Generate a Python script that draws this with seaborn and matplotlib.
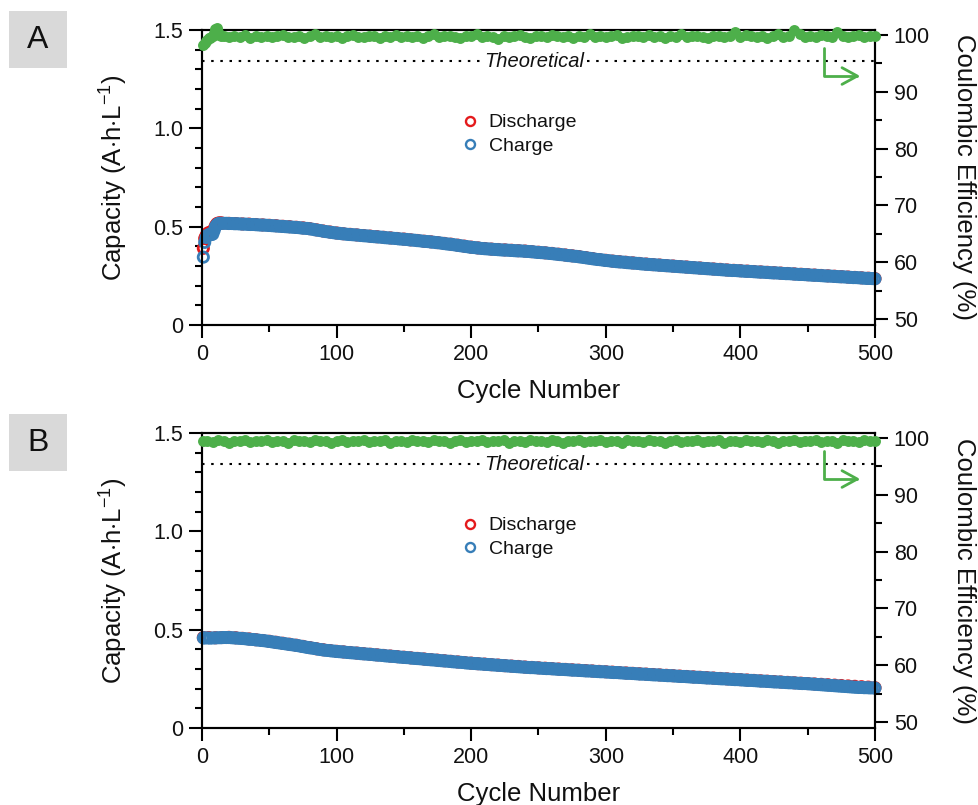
import matplotlib
matplotlib.use("Agg")
import matplotlib.pyplot as plt
from matplotlib.lines import Line2D
from matplotlib.patches import Rectangle
from matplotlib.ticker import MultipleLocator
import seaborn as sns

sns.set_style("ticks")
plt.rcParams["font.family"] = ["Liberation Sans", "DejaVu Sans"]
plt.rcParams["mathtext.fontset"] = "custom"
plt.rcParams["mathtext.rm"] = "Liberation Sans"
plt.rcParams["mathtext.it"] = "Liberation Sans:italic"
plt.rcParams["text.color"] = "#111111"
plt.rcParams["axes.labelcolor"] = "#111111"
plt.rcParams["xtick.color"] = "black"
plt.rcParams["ytick.color"] = "black"
plt.rcParams["xtick.labelcolor"] = "#111111"
plt.rcParams["ytick.labelcolor"] = "#111111"

# ======================= panel A =======================
# charge capacity: cycles 1..14, then every 2nd cycle
charge_cycles_A = list(range(1, 15)) + list(range(16, 501, 2))
charge_A = [0.345, 0.42, 0.445, 0.455, 0.46, 0.46, 0.46, 0.462, 0.48, 0.50, 0.51, 0.515, 0.517, 0.517,
            0.517, 0.517, 0.516,
            0.516, 0.515, 0.515, 0.514, 0.513, 0.513, 0.512, 0.511, 0.511, 0.510,
            0.509, 0.508, 0.508, 0.507, 0.506, 0.505, 0.504, 0.503, 0.502, 0.501,
            0.500, 0.499, 0.498, 0.497, 0.496, 0.495, 0.493, 0.492, 0.491, 0.489,
            0.487, 0.484, 0.482, 0.480, 0.477, 0.475, 0.473, 0.471, 0.469, 0.467,
            0.466, 0.464, 0.463, 0.461, 0.460, 0.459, 0.458, 0.457, 0.455, 0.454,
            0.453, 0.452, 0.450, 0.449, 0.448, 0.447, 0.446, 0.444, 0.443, 0.442,
            0.441, 0.440, 0.438, 0.437, 0.436, 0.435, 0.433, 0.432, 0.431, 0.429,
            0.428, 0.426, 0.425, 0.424, 0.422, 0.421, 0.419, 0.418, 0.416, 0.414,
            0.412, 0.411, 0.409, 0.407, 0.405, 0.403, 0.401, 0.399, 0.397, 0.395,
            0.394, 0.392, 0.391, 0.389, 0.388, 0.387, 0.386, 0.385, 0.384, 0.383,
            0.382, 0.381, 0.381, 0.380, 0.379, 0.378, 0.377, 0.377, 0.376, 0.375,
            0.374, 0.373, 0.372, 0.370, 0.369, 0.368, 0.367, 0.366, 0.364, 0.363,
            0.361, 0.360, 0.358, 0.357, 0.355, 0.353, 0.352, 0.350, 0.349, 0.347,
            0.345, 0.343, 0.341, 0.339, 0.337, 0.335, 0.333, 0.332, 0.330, 0.328,
            0.327, 0.325, 0.324, 0.322, 0.321, 0.320, 0.319, 0.317, 0.316, 0.315,
            0.314, 0.313, 0.311, 0.310, 0.309, 0.308, 0.307, 0.306, 0.305, 0.304,
            0.303, 0.302, 0.301, 0.300, 0.299, 0.298, 0.297, 0.296, 0.295, 0.294,
            0.293, 0.292, 0.291, 0.290, 0.289, 0.288, 0.287, 0.286, 0.285, 0.284,
            0.283, 0.282, 0.281, 0.280, 0.279, 0.278, 0.277, 0.277, 0.276, 0.275,
            0.274, 0.273, 0.273, 0.272, 0.271, 0.270, 0.269, 0.269, 0.268, 0.267,
            0.266, 0.265, 0.265, 0.264, 0.263, 0.262, 0.261, 0.261, 0.260, 0.259,
            0.258, 0.257, 0.257, 0.256, 0.255, 0.254, 0.253, 0.253, 0.252, 0.251,
            0.250, 0.249, 0.249, 0.248, 0.247, 0.246, 0.245, 0.245, 0.244, 0.243,
            0.242, 0.241, 0.241, 0.240, 0.239, 0.238, 0.237, 0.237, 0.236, 0.235]

# discharge capacity: cycles 1..14, then every 5th cycle
discharge_cycles_A = list(range(1, 15)) + list(range(15, 501, 5))
discharge_A = [0.39, 0.44, 0.455, 0.465, 0.47, 0.47, 0.47, 0.475, 0.49, 0.505, 0.515, 0.518, 0.519, 0.519,
               0.518, 0.517, 0.516, 0.514, 0.513, 0.511, 0.509, 0.507, 0.505, 0.502, 0.500, 0.497, 0.494, 0.490, 0.484, 0.478, 0.473, 0.468,
               0.464, 0.461, 0.458, 0.455, 0.452, 0.449, 0.446, 0.443, 0.440, 0.437, 0.433, 0.430, 0.426, 0.423, 0.419, 0.415, 0.411, 0.406, 0.401, 0.396,
               0.392, 0.389, 0.386, 0.384, 0.382, 0.380, 0.378, 0.376, 0.373, 0.370, 0.367, 0.364, 0.360, 0.356, 0.352, 0.348, 0.343, 0.338, 0.333, 0.329,
               0.325, 0.322, 0.319, 0.316, 0.313, 0.310, 0.307, 0.305, 0.302, 0.300, 0.297, 0.295, 0.292, 0.290, 0.287, 0.285, 0.283, 0.280, 0.278, 0.276,
               0.274, 0.272, 0.270, 0.268, 0.266, 0.264, 0.262, 0.260, 0.258, 0.256, 0.254, 0.252, 0.250, 0.248, 0.246, 0.244, 0.242, 0.240, 0.238, 0.236]

# coulombic efficiency (%): cycles 1..14, then every 4th cycle
ce_cycles_A = list(range(1, 15)) + list(range(16, 497, 4)) + [500]
ce_A = [98.3, 98.6, 98.9, 99.2, 99.4, 99.5, 99.7, 99.9, 100.4, 101.1, 101.3, 100.6, 100.0, 99.8,
        99.8, 99.6, 99.9, 99.7, 100.0, 99.5, 99.8, 99.7, 99.9, 99.6,
        99.8, 100.0, 99.6, 99.7, 99.9, 99.5, 99.8, 100.1, 99.6, 99.8,
        99.7, 99.9, 99.5, 99.8, 100.0, 99.7, 99.6, 99.9, 99.8, 99.4,
        99.9, 99.7, 100.0, 99.6, 99.8, 99.7, 99.9, 99.5, 99.8, 100.1,
        99.6, 99.8, 99.9, 99.7, 99.5, 99.9, 99.8, 100.2, 99.6, 99.8,
        99.7, 99.3, 99.9, 99.6, 99.8, 100.0, 99.7, 99.5, 99.9, 99.8,
        99.6, 100.0, 99.8, 99.7, 99.9, 99.5, 99.8, 99.6, 100.1, 99.7,
        99.9, 99.6, 99.8, 100.0, 99.5, 99.7, 99.9, 99.8, 99.6, 100.0,
        99.7, 99.9, 99.5, 99.8, 99.7, 100.1, 99.6, 99.8, 99.9, 99.7,
        99.5, 99.9, 99.8, 99.7, 99.9, 100.6, 99.6, 100.0, 99.8, 99.7,
        99.9, 99.5, 99.8, 100.1, 99.7, 99.8, 100.8, 100.2, 99.6, 99.9,
        99.7, 100.0, 99.8, 99.6, 100.5, 99.9, 99.7, 99.8, 100.0, 99.6,
        99.8, 99.9]

# ======================= panel B =======================
charge_cycles_B = [1] + list(range(2, 501, 2))
charge_B = [0.458,
            0.458, 0.458, 0.457, 0.458, 0.458, 0.459, 0.459, 0.460, 0.460, 0.460,
            0.459, 0.458, 0.457, 0.456, 0.455, 0.454, 0.452, 0.451, 0.450, 0.448,
            0.447, 0.445, 0.444, 0.442, 0.440, 0.438, 0.436, 0.434, 0.432, 0.430,
            0.428, 0.426, 0.424, 0.422, 0.420, 0.418, 0.415, 0.413, 0.410, 0.408,
            0.406, 0.404, 0.401, 0.399, 0.397, 0.395, 0.394, 0.392, 0.391, 0.389,
            0.388, 0.387, 0.386, 0.384, 0.383, 0.382, 0.381, 0.380, 0.378, 0.377,
            0.376, 0.375, 0.374, 0.372, 0.371, 0.370, 0.369, 0.367, 0.366, 0.365,
            0.364, 0.363, 0.361, 0.360, 0.359, 0.358, 0.357, 0.355, 0.354, 0.353,
            0.352, 0.351, 0.349, 0.348, 0.347, 0.346, 0.345, 0.343, 0.342, 0.341,
            0.340, 0.339, 0.337, 0.336, 0.335, 0.334, 0.333, 0.331, 0.330, 0.329,
            0.328, 0.327, 0.326, 0.325, 0.324, 0.323, 0.322, 0.321, 0.320, 0.319,
            0.318, 0.317, 0.316, 0.315, 0.314, 0.313, 0.312, 0.311, 0.310, 0.309,
            0.308, 0.307, 0.307, 0.306, 0.305, 0.304, 0.303, 0.302, 0.302, 0.301,
            0.300, 0.299, 0.298, 0.298, 0.297, 0.296, 0.295, 0.294, 0.294, 0.293,
            0.292, 0.291, 0.290, 0.290, 0.289, 0.288, 0.287, 0.286, 0.286, 0.285,
            0.284, 0.283, 0.282, 0.282, 0.281, 0.280, 0.279, 0.278, 0.278, 0.277,
            0.276, 0.275, 0.274, 0.274, 0.273, 0.272, 0.271, 0.270, 0.270, 0.269,
            0.268, 0.267, 0.266, 0.266, 0.265, 0.264, 0.263, 0.262, 0.262, 0.261,
            0.260, 0.259, 0.258, 0.258, 0.257, 0.256, 0.255, 0.254, 0.254, 0.253,
            0.252, 0.251, 0.250, 0.250, 0.249, 0.248, 0.247, 0.246, 0.246, 0.245,
            0.244, 0.243, 0.242, 0.242, 0.241, 0.240, 0.239, 0.238, 0.238, 0.237,
            0.236, 0.235, 0.234, 0.234, 0.233, 0.232, 0.231, 0.230, 0.230, 0.229,
            0.228, 0.227, 0.226, 0.226, 0.225, 0.224, 0.223, 0.222, 0.221, 0.220,
            0.219, 0.218, 0.217, 0.216, 0.215, 0.214, 0.213, 0.212, 0.211, 0.210,
            0.209, 0.208, 0.207, 0.206, 0.206, 0.205, 0.205, 0.204, 0.204, 0.203]

discharge_cycles_B = [1] + list(range(5, 501, 5))
discharge_B = [0.460, 0.460, 0.459, 0.460, 0.461, 0.459, 0.456, 0.453, 0.449, 0.445, 0.441, 0.436, 0.431, 0.426, 0.421, 0.415, 0.409, 0.403, 0.398, 0.394, 0.390,
               0.387, 0.384, 0.381, 0.378, 0.375, 0.372, 0.369, 0.366, 0.363, 0.360, 0.357, 0.354, 0.351, 0.348, 0.345, 0.342, 0.339, 0.336, 0.333, 0.330,
               0.327, 0.325, 0.322, 0.320, 0.317, 0.315, 0.313, 0.310, 0.308, 0.306, 0.304, 0.302, 0.300, 0.298, 0.296, 0.294, 0.292, 0.290, 0.288, 0.286,
               0.284, 0.282, 0.280, 0.278, 0.276, 0.274, 0.272, 0.270, 0.268, 0.266, 0.264, 0.262, 0.260, 0.258, 0.256, 0.254, 0.252, 0.250, 0.248, 0.246,
               0.244, 0.242, 0.240, 0.238, 0.236, 0.234, 0.232, 0.230, 0.228, 0.226, 0.224, 0.222, 0.220, 0.218, 0.216, 0.214, 0.212, 0.210, 0.208, 0.205]

ce_cycles_B = [1] + list(range(4, 501, 4))
ce_B = [99.4,
        99.5, 99.3, 99.6, 99.4, 99.2, 99.5, 99.4, 99.6, 99.3, 99.5,
        99.4, 99.6, 99.3, 99.5, 99.4, 99.2, 99.6, 99.4, 99.5, 99.3,
        99.6, 99.4, 99.5, 99.2, 99.4, 99.6, 99.3, 99.5, 99.4, 99.6,
        99.3, 99.5, 99.4, 99.6, 99.2, 99.5, 99.4, 99.3, 99.6, 99.4,
        99.5, 99.3, 99.6, 99.4, 99.5, 99.2, 99.4, 99.6, 99.3, 99.5,
        99.4, 99.6, 99.3, 99.5, 99.4, 99.6, 99.2, 99.5, 99.4, 99.3,
        99.6, 99.4, 99.5, 99.3, 99.6, 99.4, 99.2, 99.5, 99.4, 99.6,
        99.3, 99.5, 99.4, 99.6, 99.3, 99.5, 99.4, 99.2, 99.6, 99.4,
        99.5, 99.3, 99.6, 99.4, 99.5, 99.2, 99.4, 99.6, 99.3, 99.5,
        99.4, 99.6, 99.3, 99.5, 99.4, 99.6, 99.2, 99.5, 99.4, 99.3,
        99.6, 99.4, 99.5, 99.3, 99.6, 99.4, 99.2, 99.5, 99.4, 99.6,
        99.3, 99.5, 99.4, 99.6, 99.3, 99.5, 99.4, 99.2, 99.6, 99.4,
        99.5, 99.3, 99.6, 99.4, 99.5]

theoretical_capacity = 1.34
legend_labels = ["Discharge", "Charge"]

RED, BLUE, GREEN = sns.color_palette("Set1", 3)

W, H = 979, 805
fig = plt.figure(figsize=(W / 100, H / 100), dpi=100)

def fx(px):
    return px / W

def fy(py):
    return 1 - py / H

TICK_FS = 15.5
LABEL_FS = 18.5
LW = 1.5

def style_axis(ax):
    for side in ["left", "right", "top", "bottom"]:
        ax.spines[side].set_visible(True)
        ax.spines[side].set_linewidth(LW)
        ax.spines[side].set_color("black")
    ax.tick_params(which="major", length=9.5, width=LW, labelsize=TICK_FS, color="black", pad=4)
    ax.tick_params(which="minor", length=5, width=LW, color="black")

panels = [
    dict(top=30, bottom=325, letter="A", boxtop=11,
         dc=discharge_cycles_A, d=discharge_A, cc=charge_cycles_A, c=charge_A, ec=ce_cycles_A, e=ce_A),
    dict(top=433, bottom=728, letter="B", boxtop=414,
         dc=discharge_cycles_B, d=discharge_B, cc=charge_cycles_B, c=charge_B, ec=ce_cycles_B, e=ce_B),
]

for p in panels:
    top, bottom = p["top"], p["bottom"]
    ax = fig.add_axes([fx(202), fy(bottom), fx(875) - fx(202), fy(top) - fy(bottom)])
    ax2 = ax.twinx()

    sns.scatterplot(x=p["dc"], y=p["d"], ax=ax, marker="o", s=55, facecolors="none",
                    edgecolor=RED, linewidth=2.0, clip_on=False, legend=False, zorder=3)
    sns.scatterplot(x=p["cc"], y=p["c"], ax=ax, marker="o", s=55, facecolors="none",
                    edgecolor=BLUE, linewidth=2.0, clip_on=False, legend=False, zorder=4)
    sns.scatterplot(x=p["ec"], y=p["e"], ax=ax2, marker="o", s=62, color=GREEN,
                    linewidth=0, clip_on=False, legend=False, zorder=5)

    ax.set_xlim(0, 500)
    ax.set_ylim(0, 1.5)
    ax2.set_ylim(48.94, 100.88)

    ax.xaxis.set_major_locator(MultipleLocator(100))
    ax.xaxis.set_minor_locator(MultipleLocator(50))
    ax.set_yticks([0, 0.5, 1.0, 1.5])
    ax.set_yticklabels(["0", "0.5", "1.0", "1.5"])
    ax.yaxis.set_minor_locator(MultipleLocator(0.1))
    ax2.set_yticks([50, 60, 70, 80, 90, 100])
    ax2.yaxis.set_minor_locator(MultipleLocator(5))

    style_axis(ax)
    style_axis(ax2)

    ax.set_xlabel("Cycle Number", fontsize=LABEL_FS, labelpad=10)
    ax.set_ylabel(r"Capacity (A$\cdot$h$\cdot$L$^{\mathregular{-1}}$)", fontsize=LABEL_FS, labelpad=17)
    ax2.set_ylabel("Coulombic Efficiency (%)", fontsize=LABEL_FS, rotation=270, labelpad=33)

    # theoretical line
    ax.axhline(theoretical_capacity, color="black", lw=1.5, ls=(0, (1.2, 3.2)), zorder=2)
    ax.text(247, theoretical_capacity, "Theoretical", fontsize=14.5, style="italic",
            ha="center", va="center", zorder=2.5,
            bbox=dict(boxstyle="square,pad=0.1", fc="white", ec="none"))

    # green L-shaped arrow pointing to the right axis
    ax.annotate("", xy=(489, 1.266), xytext=(462, 1.408),
                arrowprops=dict(arrowstyle="->,head_length=0.55,head_width=0.3", color=GREEN, lw=2,
                                connectionstyle="angle,angleA=-90,angleB=180,rad=0",
                                shrinkA=0, shrinkB=0, mutation_scale=20))

    handles = [Line2D([], [], ls="none", marker="o", markersize=6.5, mfc="none", mew=1.7, mec=RED),
               Line2D([], [], ls="none", marker="o", markersize=6.5, mfc="none", mew=1.7, mec=BLUE)]
    ax.legend(handles, legend_labels, loc="upper left", bbox_to_anchor=(0.384, 0.716),
              frameon=False, fontsize=14, handlelength=1.0, handletextpad=0.45,
              labelspacing=0.3, borderpad=0, borderaxespad=0)

    bt = p["boxtop"]
    fig.add_artist(Rectangle((fx(9), fy(bt + 57)), fx(67) - fx(9), fy(bt) - fy(bt + 57),
                             transform=fig.transFigure, facecolor="#d9d9d9", edgecolor="none"))
    fig.text(fx(38), fy(bt + 29), p["letter"], fontsize=23, ha="center", va="center")

fig.savefig("out.png", dpi=100)
